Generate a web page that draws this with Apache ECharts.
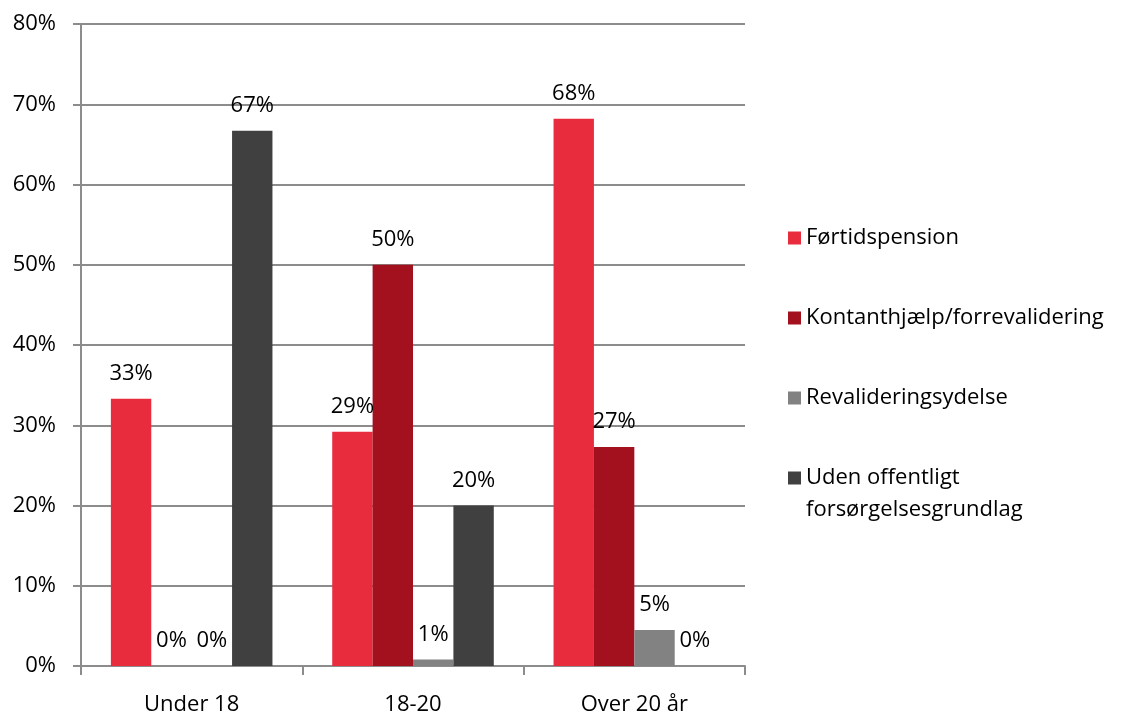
<!DOCTYPE html>
<html>
<head>
<meta charset="utf-8">
<script src="https://cdn.jsdelivr.net/npm/echarts@6/dist/echarts.min.js"></script>
<style>
  html, body { margin: 0; padding: 0; background: #fff; }
  #chart { width: 1125px; height: 718px; }
</style>
</head>
<body>
<div id="chart"></div>
<script>
var categories = ['Under 18', '18-20', 'Over 20 år'];
var seriesNames = ['Førtidspension', 'Kontanthjælp/forrevalidering', 'Revalideringsydelse', 'Uden offentligt forsørgelsesgrundlag'];
var fortidspension = [33.3, 29.2, 68.2];
var kontanthjaelp = [0, 50, 27.3];
var revalidering = [0, 0.8, 4.5];
var uden = [66.7, 20, 0];
var colors = ['#e92c3d', '#a3111e', '#828282', '#404040'];

var font = 'Open Sans, Noto Sans, sans-serif';
var fs = 22;
var chart = echarts.init(document.getElementById('chart'));

function bar(name, data, color) {
    return {
        name: name,
        type: 'bar',
        data: data,
        barGap: '0%',
        barCategoryGap: '27%',
        itemStyle: { color: color },
        label: {
            show: true,
            position: 'top',
            distance: 14,
            color: '#000',
            fontSize: fs,
            fontFamily: font,
            formatter: function (p) { return Math.round(p.value) + '%'; }
        }
    };
}

var option = {
    animation: false,
    textStyle: { fontFamily: font },
    grid: { left: 81, right: 380, top: 24, bottom: 52, containLabel: false },
    legend: {
        orient: 'vertical',
        left: 783,
        top: 217,
        itemWidth: 13,
        itemHeight: 13,
        itemGap: 48,
        icon: 'rect',
        textStyle: { fontSize: fs, color: '#000', fontFamily: font, lineHeight: 32 },
        formatter: function (name) {
            return name === seriesNames[3] ? 'Uden offentligt' : name;
        },
        data: seriesNames
    },
    graphic: [{
        type: 'text',
        left: 806,
        top: 499,
        style: { text: 'forsørgelsesgrundlag', fontSize: fs, fontFamily: font, fill: '#000' }
    }],
    xAxis: {
        type: 'category',
        data: categories,
        axisLine: { lineStyle: { color: '#8c8c8c', width: 2 } },
        axisTick: { show: true, length: 9, lineStyle: { color: '#8c8c8c', width: 2 } },
        axisLabel: { color: '#000', fontSize: fs, margin: 28, fontFamily: font }
    },
    yAxis: {
        type: 'value',
        min: 0,
        max: 80,
        interval: 10,
        axisLine: { show: true, lineStyle: { color: '#8c8c8c', width: 2 } },
        axisTick: { show: true, length: 8, lineStyle: { color: '#8c8c8c', width: 2 } },
        splitLine: { lineStyle: { color: '#8c8c8c', width: 2 } },
        axisLabel: { color: '#000', fontSize: fs, margin: 25, fontFamily: font, formatter: '{value}%' }
    },
    series: [
        bar(seriesNames[0], fortidspension, colors[0]),
        bar(seriesNames[1], kontanthjaelp, colors[1]),
        bar(seriesNames[2], revalidering, colors[2]),
        bar(seriesNames[3], uden, colors[3])
    ]
};

chart.setOption(option);
</script>
</body>
</html>
